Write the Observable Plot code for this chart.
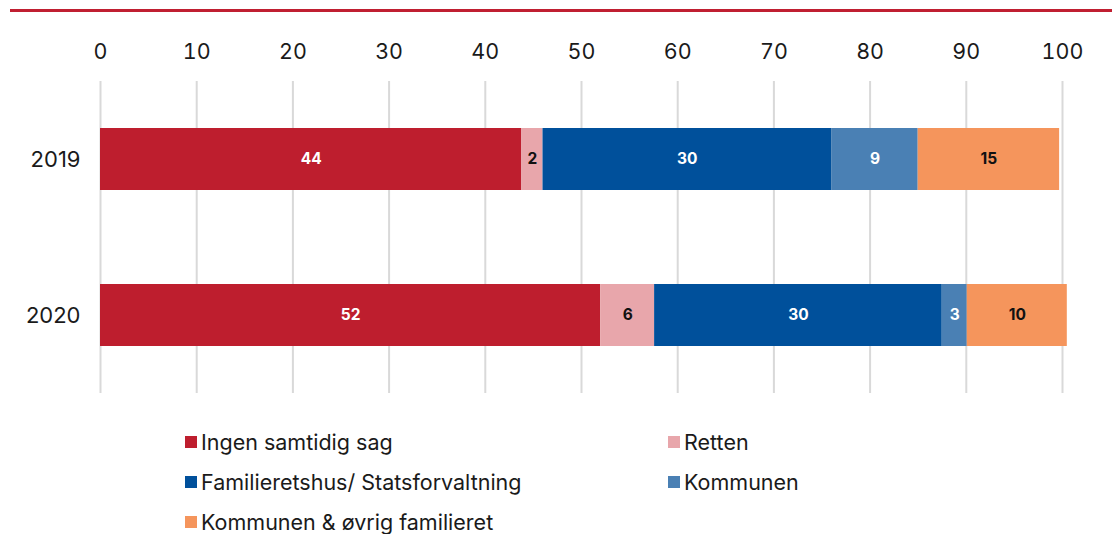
<!DOCTYPE html>
<html>
<head>
<meta charset="utf-8">
<script src="https://cdn.jsdelivr.net/npm/d3@7"></script>
<script src="https://cdn.jsdelivr.net/npm/@observablehq/plot@0.6"></script>
<style>
  html, body { margin: 0; padding: 0; background: #fff; }
  body { width: 1112px; height: 534px; position: relative; overflow: hidden; font-family: Inter, "Noto Sans", sans-serif; }
  #topline { position: absolute; left: 10px; right: 0; top: 9px; height: 3px; background: #c01f31; }
  #chart { position: absolute; left: 0; top: 14px; }
  #legend { position: absolute; left: 185px; top: 422px; display: grid; grid-template-columns: 483px 300px; grid-auto-rows: 40px; font-size: 21.5px; color: #1a1a1a; }
  .item { display: flex; align-items: center; white-space: nowrap; }
  .sw { width: 12px; height: 12px; margin-right: 4px; flex: none; }
</style>
</head>
<body>
<div id="topline"></div>
<div id="chart"></div>
<div id="legend"></div>
<script>
const years = ["2019", "2020"];
const categories = ["Ingen samtidig sag", "Retten", "Familieretshus/ Statsforvaltning", "Kommunen", "Kommunen & øvrig familieret"];
const colors = ["#be1e2e", "#e8a6ab", "#00509b", "#4a80b4", "#f5955c"];
const labelColors = ["#ffffff", "#111111", "#ffffff", "#ffffff", "#111111"];
const values2019 = [43.8, 2.2, 30.0, 9.0, 14.7];
const values2020 = [52.0, 5.6, 29.9, 2.6, 10.4];
const xTicks = [0, 10, 20, 30, 40, 50, 60, 70, 80, 90, 100];

const series = [values2019, values2020];
const data = [];
years.forEach((yr, i) => {
  categories.forEach((c, j) => {
    data.push({year: yr, cat: c, value: series[i][j], color: colors[j], label: labelColors[j]});
  });
});

const chart = Plot.plot({
  width: 1112,
  height: 389,
  marginLeft: 100,
  marginRight: 50,
  marginTop: 67,
  marginBottom: 10,
  style: {fontFamily: "Inter, 'Noto Sans', sans-serif", fontSize: "21.5px", color: "#1a1a1a", background: "transparent"},
  x: {domain: [0, 100], ticks: xTicks, axis: null},
  y: {domain: years, paddingInner: 0.6, paddingOuter: 0.3, axis: null},
  color: {type: "identity"},
  marks: [
    Plot.gridX(xTicks, {stroke: "#d9d9d9", strokeOpacity: 1, strokeWidth: 2}),
    Plot.axisX({anchor: "top", ticks: xTicks, tickSize: 0, tickPadding: 23, fontSize: 21.5, fill: "#1a1a1a", label: null}),
    Plot.axisY({anchor: "left", tickSize: 0, tickPadding: 20, fontSize: 22, fill: "#1a1a1a", label: null}),
    Plot.barX(data, Plot.stackX({x: "value", y: "year", fill: "color", order: null})),
    Plot.text(data, Plot.stackX({x: "value", y: "year", text: d => String(Math.round(d.value)), fill: "label", fontWeight: "bold", fontSize: 15.5, order: null}))
  ]
});
document.getElementById("chart").appendChild(chart);

const legend = document.getElementById("legend");
categories.forEach((c, j) => {
  const item = document.createElement("div");
  item.className = "item";
  const sw = document.createElement("span");
  sw.className = "sw";
  sw.style.background = colors[j];
  const t = document.createElement("span");
  t.textContent = c;
  item.appendChild(sw);
  item.appendChild(t);
  legend.appendChild(item);
});
</script>
</body>
</html>
